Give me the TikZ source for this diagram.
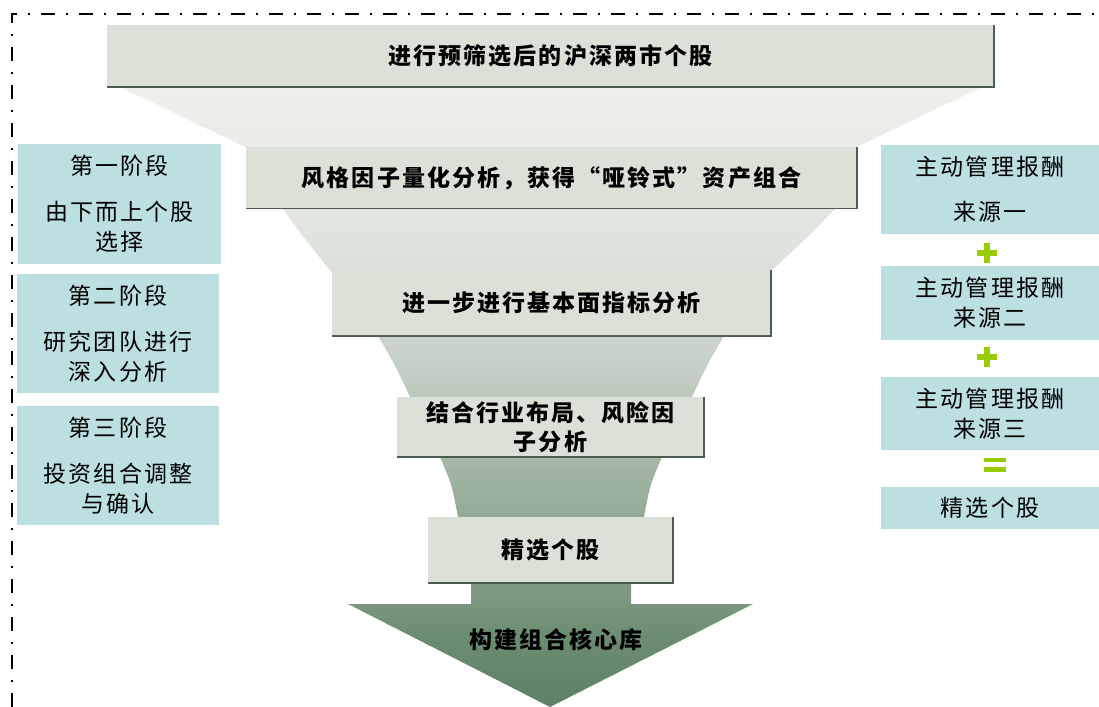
\documentclass[tikz,border=0pt]{standalone}
\usepackage{fontspec}
\newfontfamily\cjk{Noto Sans CJK SC}[LetterSpace=9]
\definecolor{f0}{HTML}{5E8064}
\definecolor{f1}{HTML}{6B8C70}
\definecolor{f2}{HTML}{7B977F}
\definecolor{f3}{HTML}{86A08A}
\definecolor{f4}{HTML}{9EB2A0}
\definecolor{f5}{HTML}{B4C2B4}
\definecolor{f6}{HTML}{C5CFC5}
\definecolor{f7}{HTML}{DFE3DD}
\definecolor{f8}{HTML}{EEF0EC}
\definecolor{boxgray}{HTML}{DCE1D8}
\definecolor{shadowc}{HTML}{4D5D4F}
\definecolor{boxblue}{HTML}{BCDFE2}
\definecolor{plusgreen}{HTML}{99CC00}
\pgfdeclareverticalshading{funnelshade}{100bp}{color(0bp)=(f0); color(25bp)=(f0); color(30.4bp)=(f1); color(33.6bp)=(f2); color(36.9bp)=(f3); color(43.3bp)=(f4); color(48.1bp)=(f5); color(52.2bp)=(f6); color(61.9bp)=(f7); color(75bp)=(f8); color(100bp)=(f8)}
\tikzset{
  fbox/.style={fill=boxgray, inner sep=0pt, align=center, font=\cjk\bfseries\fontsize{23bp}{29bp}\selectfont},
  bbox/.style={fill=boxblue, inner sep=0pt, align=center, font=\cjk\fontsize{23bp}{30bp}\selectfont},
  shadowline/.style={draw=shadowc, line width=1.6bp},
  borderline/.style={line width=2.2bp, dash pattern=on 14bp off 11bp on 2bp off 11bp},
  signbar/.style={fill=plusgreen}
}
\begin{document}
\begin{tikzpicture}[x=1bp,y=-1bp]
\useasboundingbox (0,0) rectangle (1099,707);
% funnel
\shade[shading=funnelshade] (120,87) -- (982,87) -- (857,147) -- (835,209)
  .. controls (810,235) .. (772,270)
  -- (724,336) .. controls (708,363) .. (692,397) -- (662,457) .. controls (650,485) .. (644,517)
  -- (631,583) -- (631,604)
  -- (753,604) -- (550,707) -- (348,604) -- (471,604) -- (471,583) -- (458,517)
  .. controls (452,485) .. (440,457) -- (410,397) .. controls (394,363) .. (378,336)
  -- (330,270) .. controls (303,237) .. (283,209) -- (245,147) -- cycle;
% funnel boxes
\node[fbox, minimum width=887bp, minimum height=62bp] (b1) at (550.5,56) {进行预筛选后的沪深两市个股};
\node[fbox, minimum width=611bp, minimum height=61bp] (b2) at (551.5,178) {风格因子量化分析，获得“哑铃式”资产组合};
\node[fbox, minimum width=439bp, minimum height=66bp] (b3) at (551.5,303) {进一步进行基本面指标分析};
\node[fbox, minimum width=307bp, minimum height=60bp] (b4) at (550.5,427) {结合行业布局、风险因\\子分析};
\node[fbox, minimum width=245bp, minimum height=66bp] (b5) at (550.5,550) {精选个股};
\foreach \b in {b1,b2,b3,b4,b5}{
  \draw[shadowline] (\b.south west) -- (\b.south east) -- (\b.north east);
}
\node[inner sep=0pt, font=\cjk\bfseries\fontsize{23bp}{29bp}\selectfont] (core) at (556,640) {构建组合核心库};
% left stage boxes
\node[bbox, minimum width=203bp, minimum height=120bp] (l1) at (119.5,204) {第一阶段\\[16bp]由下而上个股\\选择};
\node[bbox, minimum width=202bp, minimum height=119bp] (l2) at (118,333.5) {第二阶段\\[16bp]研究团队进行\\深入分析};
\node[bbox, minimum width=202bp, minimum height=119bp] (l3) at (118,465.5) {第三阶段\\[16bp]投资组合调整\\与确认};
% right boxes
\node[bbox, minimum width=218bp, minimum height=89bp] (r1) at (990,189.5) {主动管理报酬\\[15bp]来源一};
\node[bbox, minimum width=218bp, minimum height=74bp] (r2) at (990,303) {主动管理报酬\\来源二};
\node[bbox, minimum width=218bp, minimum height=73bp] (r3) at (990,413.5) {主动管理报酬\\来源三};
\node[bbox, minimum width=218bp, minimum height=42bp] (r4) at (990,508) {精选个股};
% plus and equals signs
\fill[signbar] (977,250) rectangle (997,256);
\fill[signbar] (984,243) rectangle (990,263);
\fill[signbar] (977,354) rectangle (997,360);
\fill[signbar] (984,347) rectangle (990,367);
\fill[signbar] (984,457.5) rectangle (1006,462);
\fill[signbar] (984,467) rectangle (1006,471.5);
% dash-dot frame
\draw[borderline] (12,707) -- (12,14) -- (1099,14);
\end{tikzpicture}
\end{document}
